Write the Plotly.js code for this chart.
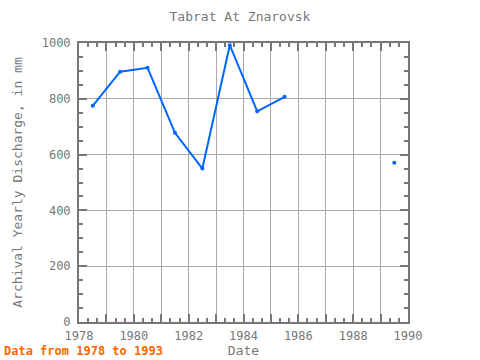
<!DOCTYPE html>
<html><head><meta charset="utf-8">
<script src="https://cdn.plot.ly/plotly-3.0.1.min.js"></script>
<style>html,body{margin:0;padding:0;background:#fff}#c{width:480px;height:360px}</style>
</head><body><div id="c"></div>
<script>
const years = [1978.5, 1979.5, 1980.5, 1981.5, 1982.5, 1983.5, 1984.5, 1985.5, 1986.5, 1987.5, 1988.5, 1989.5];
const discharge = [775, 897, 911, 678, 550, 992, 755, 807, null, null, null, 571];
const xTickVals = [1978,1979,1980,1981,1982,1983,1984,1985,1986,1987,1988,1989,1990];
const xTickText = ['1978','','1980','','1982','','1984','','1986','','1988','','1990'];
const yTickVals = [0,200,400,600,800,1000];

const font = 'DejaVu Sans Mono, Liberation Mono, monospace';
const gray = '#777';
const trace = {
  x: years, y: discharge, type: 'scatter', mode: 'lines+markers',
  line: {color: '#0066ff', width: 2}, marker: {color: '#0066ff', size: 4},
  connectgaps: false, hoverinfo: 'skip'
};
const layout = {
  width: 480, height: 360,
  margin: {l: 79, r: 72, t: 43, b: 38},
  paper_bgcolor: '#fff', plot_bgcolor: '#fff',
  showlegend: false,
  title: {text: 'Tabrat At Znarovsk', x: 0.5, xanchor: 'center', y: 0.955, yanchor: 'middle',
          font: {family: font, size: 13, color: gray}},
  font: {family: font, color: gray, size: 12},
  xaxis: {
    range: [1978, 1990], tickvals: xTickVals, ticktext: xTickText,
    ticks: 'inside', ticklen: 8, tickwidth: 2, tickcolor: gray,
    showline: true, linecolor: gray, linewidth: 2, mirror: 'ticks',
    showgrid: true, gridcolor: '#aaa', gridwidth: 1, zeroline: false,
    ticklabelstandoff: 2,
    tickfont: {family: font, size: 12, color: gray},
    minor: {dtick: 1/3, tick0: 1978, ticks: 'inside', ticklen: 4, tickwidth: 2, tickcolor: gray, showgrid: false},
    title: {text: 'Date', standoff: 2, font: {family: font, size: 13, color: gray}}
  },
  yaxis: {
    range: [0, 1000], tickvals: yTickVals,
    ticks: 'inside', ticklen: 8, tickwidth: 2, tickcolor: gray,
    showline: true, linecolor: gray, linewidth: 2, mirror: 'ticks',
    showgrid: true, gridcolor: '#aaa', gridwidth: 1, zeroline: false,
    ticklabelstandoff: 4,
    tickfont: {family: font, size: 12, color: gray},
    minor: {dtick: 50, tick0: 0, ticks: 'inside', ticklen: 4, tickwidth: 2, tickcolor: gray, showgrid: false},
    title: {text: 'Archival Yearly Discharge, in mm', standoff: 16, font: {family: font, size: 13, color: gray}}
  },
  annotations: [{
    text: '<b>Data from 1978 to 1993</b>', xref: 'paper', yref: 'paper',
    x: -79/336, y: -38/279, xanchor: 'left', yanchor: 'bottom', showarrow: false,
    font: {family: font, size: 12, color: '#ff6600'}
  }]
};
Plotly.newPlot('c', [trace], layout, {staticPlot: true});
</script></body></html>
